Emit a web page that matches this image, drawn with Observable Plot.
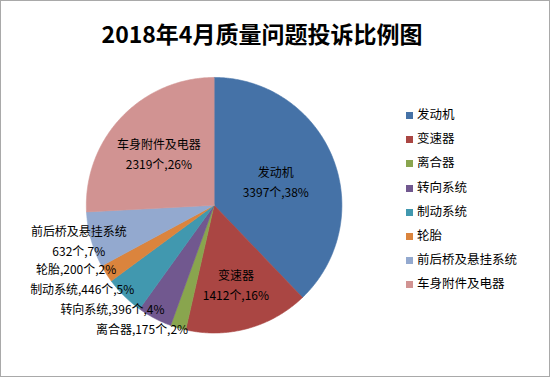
<!DOCTYPE html>
<html>
<head>
<meta charset="utf-8">
<script src="https://cdn.jsdelivr.net/npm/d3@7"></script>
<script src="https://cdn.jsdelivr.net/npm/@observablehq/plot@0.6"></script>
<style>
  html, body { margin: 0; padding: 0; background: #fff; }
  #wrap { position: relative; width: 550px; height: 377px; box-sizing: border-box; border: 1px solid #a9a9a9; overflow: hidden; font-family: "Microsoft YaHei", "Noto Sans CJK SC", sans-serif; }
  #title { position: absolute; left: 0; top: 0; width: 522px; height: 62px; line-height: 64px; text-align: center; font-size: 23px; font-weight: 700; color: #000; }
  #chart { position: absolute; left: -1px; top: 61px; }
  #legend { position: absolute; left: 405px; top: 101px; font-size: 12.5px; color: #000; }
  .row { height: 24.2px; line-height: 24.2px; white-space: nowrap; }
  .sw { display: inline-block; width: 7px; height: 7px; margin-right: 4px; vertical-align: 0px; }
</style>
</head>
<body>
<div id="wrap">
  <div id="title"></div>
  <div id="chart"></div>
  <div id="legend"></div>
</div>
<script>
const title = "2018年4月质量问题投诉比例图";
const names = ["发动机", "变速器", "离合器", "转向系统", "制动系统", "轮胎", "前后桥及悬挂系统", "车身附件及电器"];
const counts = [3397, 1412, 175, 396, 446, 200, 632, 2319];
const colors = ["#4572A7", "#AA4643", "#89A54E", "#71588F", "#4198AF", "#DB843D", "#93A9CF", "#D19392"];

document.getElementById("title").textContent = title;

// layout constants
const W = 550, H = 315, cx = 214, cy = 143, R = 128;

const total = d3.sum(counts);
let acc = 0;
const slices = names.map((name, i) => {
  const a0 = acc / total * 2 * Math.PI;
  acc += counts[i];
  const a1 = acc / total * 2 * Math.PI;
  return {name, count: counts[i], frac: counts[i] / total, pct: Math.round(counts[i] / total * 100), a0, a1, mid: (a0 + a1) / 2};
});

// slice polygons in unit coordinates (angle clockwise from top)
const pts = [];
for (const s of slices) {
  pts.push({name: s.name, x: 0, y: 0});
  const n = Math.max(2, Math.ceil((s.a1 - s.a0) / (Math.PI / 360)));
  for (let k = 0; k <= n; k++) {
    const a = s.a0 + (s.a1 - s.a0) * k / n;
    pts.push({name: s.name, x: Math.sin(a), y: Math.cos(a)});
  }
  pts.push({name: s.name, x: 0, y: 0});
}

const inside = [], outside = [];
for (const s of slices) {
  if (s.frac >= 0.15) {
    const h = (s.a1 - s.a0) / 2;
    const rc = (2 / 3) * Math.sin(h) / h;
    inside.push({x: rc * Math.sin(s.mid), y: rc * Math.cos(s.mid), text: `${s.name}\n${s.count}个,${s.pct}%`});
  } else if (s.frac >= 0.06) {
    // two-line label centred just outside the rim
    outside.push({two: true, x: 1.1 * Math.sin(s.mid), py: -1.1 * R * Math.cos(s.mid), half: 20, text: `${s.name}\n${s.count}个,${s.pct}%`});
  } else {
    // single-line label ending near the rim point
    outside.push({two: false, x: Math.sin(s.mid), py: -R * Math.cos(s.mid) - 5, half: 10, text: `${s.name},${s.count}个,${s.pct}%`});
  }
}
// vertical de-overlap of outside labels (pixel space, relative to centre)
outside.sort((a, b) => a.py - b.py);
for (let it = 0; it < 100; it++) {
  for (let i = 0; i + 1 < outside.length; i++) {
    const a = outside[i], b = outside[i + 1];
    const need = a.half + b.half;
    const gap = b.py - a.py;
    if (gap < need) { const d = (need - gap) / 2; a.py -= d; b.py += d; }
  }
}
for (const o of outside) o.y = -o.py / R;
const outside2 = outside.filter(o => o.two);
const outside1 = outside.filter(o => !o.two);

const font = "'Microsoft YaHei', 'Noto Sans CJK SC', sans-serif";
const chart = Plot.plot({
  width: W, height: H, margin: 0,
  style: {fontFamily: font, background: "transparent"},
  x: {domain: [-1, 1], range: [cx - R, cx + R], axis: null},
  y: {domain: [-1, 1], range: [cy + R, cy - R], axis: null},
  color: {domain: names, range: colors},
  marks: [
    Plot.line(pts, {x: "x", y: "y", z: "name", fill: "name", stroke: "name", strokeWidth: 0.6, curve: "linear"}),
    Plot.text(inside, {x: "x", y: "y", text: "text", fontSize: 12, fill: "#000", lineHeight: 1.67, textAnchor: "middle", lineAnchor: "middle"}),
    Plot.text(outside2, {x: "x", y: "y", text: "text", fontSize: 12, fill: "#000", lineHeight: 1.67, textAnchor: "middle", lineAnchor: "middle"}),
    Plot.text(outside1, {x: "x", y: "y", text: "text", fontSize: 12, fill: "#000", textAnchor: "end", lineAnchor: "middle", dx: 10})
  ]
});
document.getElementById("chart").appendChild(chart);

const legend = document.getElementById("legend");
names.forEach((n, i) => {
  const row = document.createElement("div");
  row.className = "row";
  const sw = document.createElement("span");
  sw.className = "sw";
  sw.style.background = colors[i];
  row.appendChild(sw);
  row.appendChild(document.createTextNode(n));
  legend.appendChild(row);
});
</script>
</body>
</html>
